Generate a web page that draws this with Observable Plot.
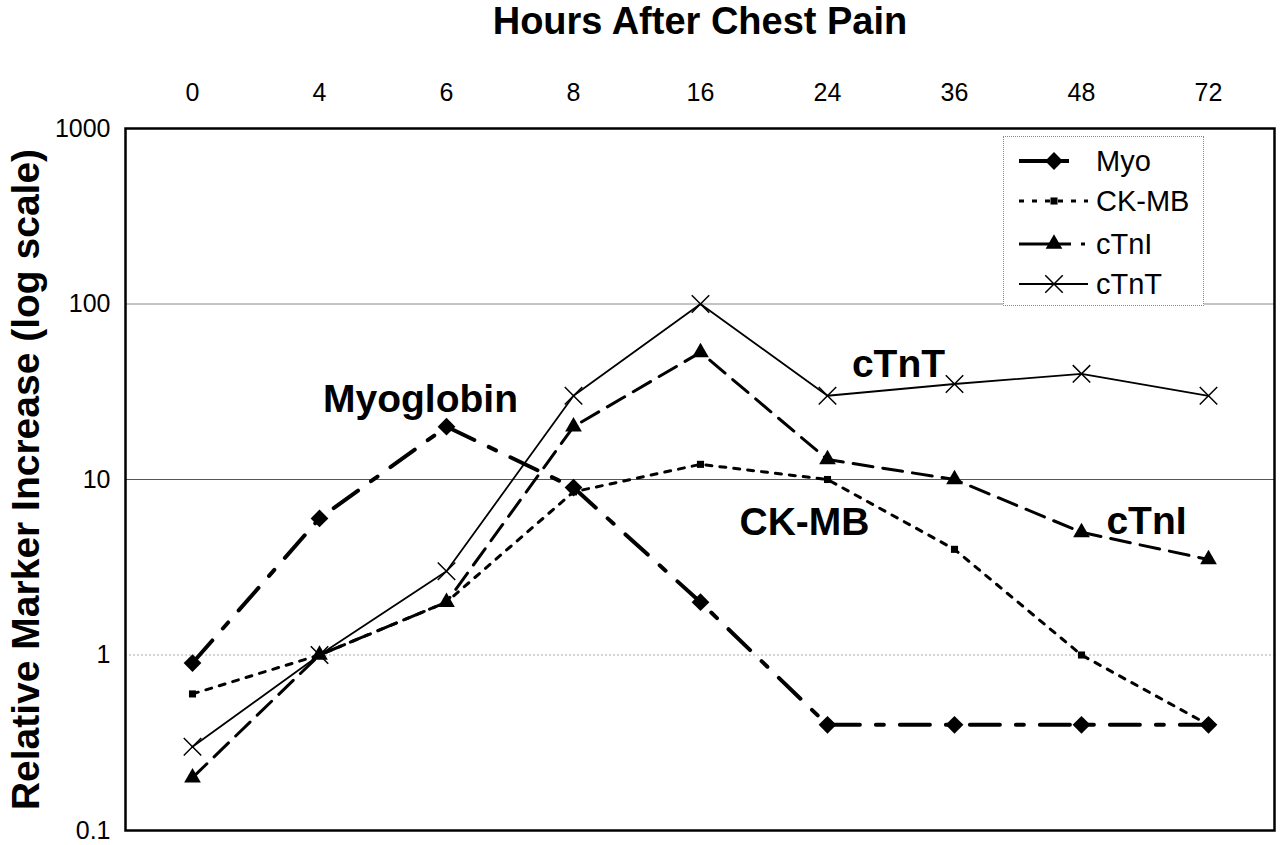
<!DOCTYPE html>
<html><head><meta charset="utf-8">
<script src="https://cdn.jsdelivr.net/npm/d3@7"></script>
<script src="https://cdn.jsdelivr.net/npm/@observablehq/plot@0.6"></script>
<style>
body{margin:0;background:#fff;font-family:"Liberation Sans",Arial,sans-serif;}
#wrap{position:relative;width:1280px;height:845px;}
#legend{position:absolute;left:1003px;top:136px;width:199px;height:168px;border:1px dotted #888;background:#fff;}
</style></head><body><div id="wrap"></div>
<script>
const hours = ["0","4","6","8","16","24","36","48","72"];
const myo  = [0.9, 6, 20, 9, 2, 0.4, 0.4, 0.4, 0.4];
const ckmb = [0.6, 1, 2, 8.5, 12.2, 10, 4, 1, 0.4];
const ctni = [0.2, 1, 2, 20, 53, 13, 10, 5, 3.5];
const ctnt = [0.3, 1, 3, 30, 100, 30, 35, 40, 30];
const yTicks = [0.1, 1, 10, 100, 1000];
const seriesNames = ["Myo", "CK-MB", "cTnI", "cTnT"];
const annoLabels = ["Myoglobin", "cTnT", "CK-MB", "cTnI"];
const annoHour = ["6", "24", "24", "48"];
const annoValue = [24.4, 38.6, 4.8, 4.9];
const annoDx = [-26, 71, -23, 65];
const xTitle = "Hours After Chest Pain";
const yTitle = "Relative Marker Increase (log scale)";

const seriesValues = [myo, ckmb, ctni, ctnt];
const styles = [
  {width: 4,   dash: "30,16,8,16", symbol: "diamond2", r: 8,   fill: "black", stroke: "none", legendDash: "32,10,8,100"},
  {width: 3,   dash: "6,8",        symbol: "square",   r: 4,   fill: "black", stroke: "none", legendDash: "5,8"},
  {width: 3,   dash: "20,10",      symbol: "triangle", r: 6.2, fill: "black", stroke: "none", legendDash: "52,10,4,100"},
  {width: 1.8, dash: null,         symbol: "times",    r: 8,   fill: "none",  stroke: "black", legendDash: null}
];

const rows = seriesNames.map((s, i) => hours.map((h, j) => ({series: s, hour: h, value: seriesValues[i][j]})));

const marks = [
  Plot.ruleY([1], {stroke: "#aaa", strokeWidth: 1, strokeDasharray: "2,2"}),
  Plot.ruleY([10], {stroke: "#555", strokeWidth: 1.2}),
  Plot.ruleY([100], {stroke: "#888", strokeWidth: 1})
];
rows.forEach((data, i) => {
  const st = styles[i];
  marks.push(Plot.line(data, {x: "hour", y: "value", stroke: "black", strokeWidth: st.width, strokeDasharray: st.dash}));
});
rows.forEach((data, i) => {
  const st = styles[i];
  marks.push(Plot.dot(data, {x: "hour", y: "value", symbol: () => st.symbol, r: st.r, fill: st.fill, stroke: st.stroke, strokeWidth: 1.5}));
});
annoLabels.forEach((lab, i) => {
  marks.push(Plot.text([lab], {x: () => annoHour[i], y: () => annoValue[i], text: d => d, dx: annoDx[i], fontSize: 39, fontWeight: "bold", textAnchor: "middle", lineAnchor: "bottom", fill: "black"}));
});
marks.push(Plot.frame({stroke: "black", strokeWidth: 2.5}));
marks.push(Plot.axisY({ticks: yTicks, tickFormat: d => String(d), tickSize: 0, tickPadding: 15, fontSize: 25, label: null}));
marks.push(Plot.axisX({anchor: "top", tickSize: 0, tickPadding: 28, fontSize: 25, label: null}));
marks.push(Plot.text([xTitle], {frameAnchor: "top", text: d => d, dy: -95, fontSize: 38, fontWeight: "bold", lineAnchor: "bottom", textAnchor: "middle"}));
marks.push(Plot.text([yTitle], {frameAnchor: "left", text: d => d, dx: -87, rotate: -90, fontSize: 39, fontWeight: "bold", lineAnchor: "bottom", textAnchor: "middle"}));

const chart = Plot.plot({
  width: 1280, height: 845,
  marginLeft: 125, marginRight: 6, marginTop: 128, marginBottom: 15,
  x: {type: "point", domain: hours, padding: 0.5},
  y: {type: "log", domain: [0.1, 1000]},
  style: {fontFamily: "'Liberation Sans', Arial, sans-serif", background: "white", color: "black"},
  marks
});
const wrap = document.getElementById("wrap");
wrap.appendChild(chart);

// legend overlay
const leg = d3.select(wrap).append("div").attr("id", "legend");
const lsvg = leg.append("svg").attr("width", 199).attr("height", 168);
const rowY = [24, 64, 107, 147];
const symMap = {diamond2: d3.symbolDiamond2, square: d3.symbolSquare, triangle: d3.symbolTriangle, times: d3.symbolTimes};
seriesNames.forEach((s, i) => {
  const st = styles[i];
  const g = lsvg.append("g").attr("transform", `translate(0,${rowY[i]})`);
  g.append("line").attr("x1", 15).attr("x2", 84).attr("y1", 0).attr("y2", 0)
    .attr("stroke", "black").attr("stroke-width", st.width).attr("stroke-dasharray", st.legendDash);
  g.append("path").attr("transform", "translate(50,0)")
    .attr("d", d3.symbol(symMap[st.symbol], Math.PI * st.r * st.r)())
    .attr("fill", st.fill).attr("stroke", st.stroke).attr("stroke-width", 1.5);
  g.append("text").attr("x", 92).attr("y", 10).attr("font-size", 29).attr("fill", "black")
    .attr("font-family", "'Liberation Sans', Arial, sans-serif").text(s);
});
</script>
</body></html>
